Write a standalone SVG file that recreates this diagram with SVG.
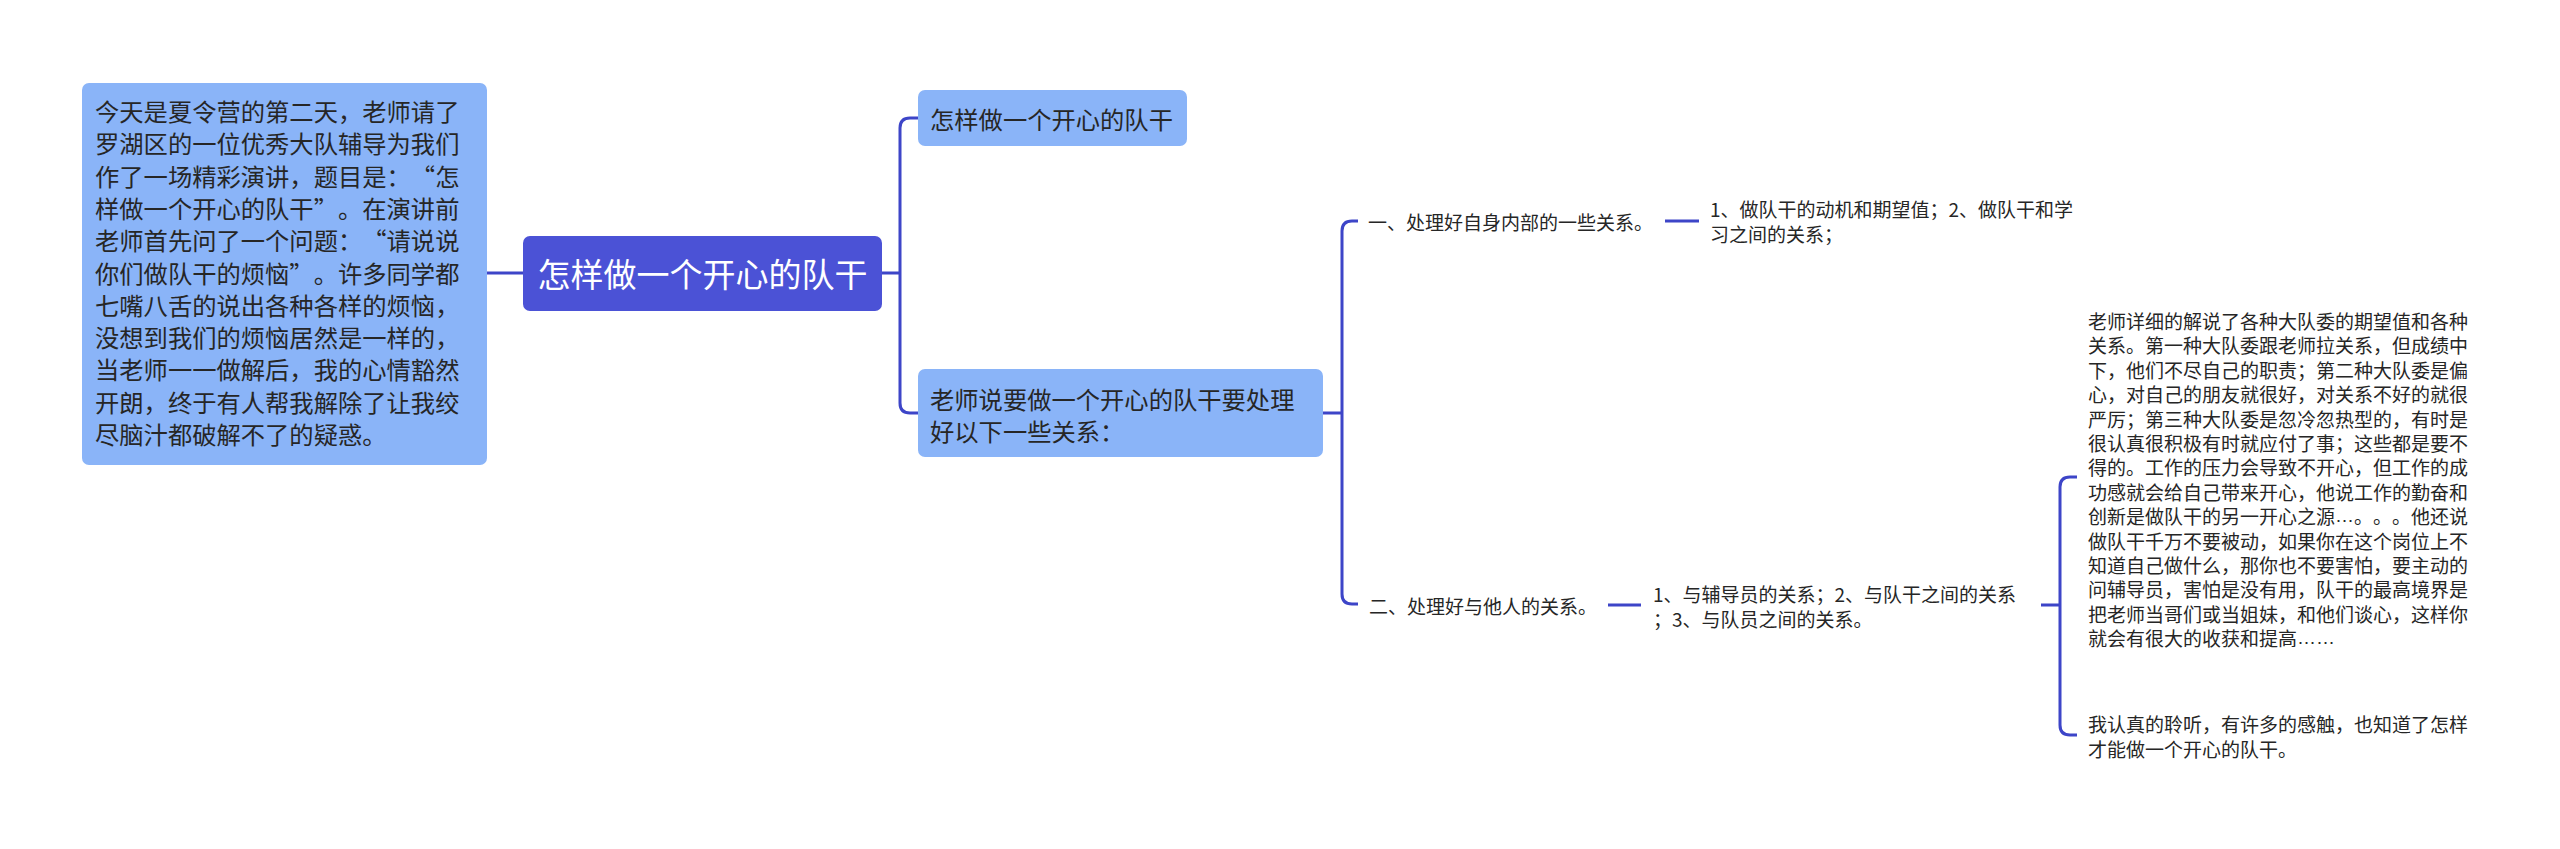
<svg xmlns="http://www.w3.org/2000/svg" width="2560" height="849" viewBox="0 0 2560 849">
<style>
text{font-family:"Noto Sans CJK SC","Liberation Sans",sans-serif;fill:#262626;dominant-baseline:central;text-spacing-trim:space-all}
.fw{font-feature-settings:"fwid"}
.lat{font-family:"Liberation Sans",sans-serif}
.box{fill:#8ab4f8}
.root{fill:#4b52d6}
.t24{font-size:24.3px}
.t19{font-size:19px}
.t33{font-size:33px;fill:#ffffff}
.c{fill:none;stroke:#3d45c8;stroke-width:3}
</style>
<rect width="2560" height="849" fill="#ffffff"/>
<g id="connectors">
<path class="c" d="M487 273H523"/>
<path class="c" d="M882 273H900M918 118H910Q900 118 900 128V403Q900 413 910 413H918"/>
<path class="c" d="M1323 413H1342M1358 221H1352Q1342 221 1342 231V594Q1342 604 1352 604H1358"/>
<path class="c" d="M1665 221H1699"/>
<path class="c" d="M1608 605H1641"/>
<path class="c" d="M2041 605H2060M2077 477H2070Q2060 477 2060 487V725Q2060 735 2070 735H2077"/>
</g>
<g id="intro">
<rect class="box" x="82" y="83" width="405" height="382" rx="7"/>
<text class="t24 fw" x="95"><tspan x="95" y="110">今天是夏令营的第二天，老师请了</tspan><tspan x="95" y="142.3">罗湖区的一位优秀大队辅导为我们</tspan><tspan x="95" y="174.6">作了一场精彩演讲，题目是：“怎</tspan><tspan x="95" y="206.9">样做一个开心的队干”。在演讲前</tspan><tspan x="95" y="239.2">老师首先问了一个问题：“请说说</tspan><tspan x="95" y="271.5">你们做队干的烦恼”。许多同学都</tspan><tspan x="95" y="303.8">七嘴八舌的说出各种各样的烦恼，</tspan><tspan x="95" y="336.1">没想到我们的烦恼居然是一样的，</tspan><tspan x="95" y="368.4">当老师一一做解后，我的心情豁然</tspan><tspan x="95" y="400.7">开朗，终于有人帮我解除了让我绞</tspan><tspan x="95" y="433">尽脑汁都破解不了的疑惑。</tspan></text>
</g>
<g id="root">
<rect class="root" x="523" y="236" width="359" height="75" rx="7"/>
<text class="t33" x="702.5" y="273" text-anchor="middle">怎样做一个开心的队干</text>
</g>
<g id="n1">
<rect class="box" x="918" y="90" width="269" height="56" rx="7"/>
<text class="t24" x="930" y="118">怎样做一个开心的队干</text>
</g>
<g id="n2">
<rect class="box" x="918" y="369" width="405" height="88" rx="7"/>
<text class="t24"><tspan x="930" y="398">老师说要做一个开心的队干要处理</tspan><tspan x="930" y="430">好以下一些关系：</tspan></text>
</g>
<g id="n3">
<text class="t19" x="1368" y="221">一、处理好自身内部的一些关系。</text>
</g>
<g id="n4">
<text class="t19"><tspan x="1710" y="208">1、做队干的动机和期望值；2、做队干和学</tspan><tspan x="1710" y="233">习之间的关系；</tspan></text>
</g>
<g id="n5">
<text class="t19" x="1369" y="605">二、处理好与他人的关系。</text>
</g>
<g id="n6">
<text class="t19"><tspan x="1653" y="593">1、与辅导员的关系；2、与队干之间的关系</tspan><tspan x="1653" y="618">；3、与队员之间的关系。</tspan></text>
</g>
<g id="n7">
<text class="t19"><tspan x="2088" y="320">老师详细的解说了各种大队委的期望值和各种</tspan><tspan x="2088" y="344.4">关系。第一种大队委跟老师拉关系，但成绩中</tspan><tspan x="2088" y="368.8">下，他们不尽自己的职责；第二种大队委是偏</tspan><tspan x="2088" y="393.2">心，对自己的朋友就很好，对关系不好的就很</tspan><tspan x="2088" y="417.6">严厉；第三种大队委是忽冷忽热型的，有时是</tspan><tspan x="2088" y="442">很认真很积极有时就应付了事；这些都是要不</tspan><tspan x="2088" y="466.4">得的。工作的压力会导致不开心，但工作的成</tspan><tspan x="2088" y="490.8">功感就会给自己带来开心，他说工作的勤奋和</tspan><tspan x="2088" y="515.2">创新是做队干的另一开心之源<tspan class="lat">…</tspan>。。。他还说</tspan><tspan x="2088" y="539.6">做队干千万不要被动，如果你在这个岗位上不</tspan><tspan x="2088" y="564">知道自己做什么，那你也不要害怕，要主动的</tspan><tspan x="2088" y="588.4">问辅导员，害怕是没有用，队干的最高境界是</tspan><tspan x="2088" y="612.8">把老师当哥们或当姐妹，和他们谈心，这样你</tspan><tspan x="2088" y="637.2">就会有很大的收获和提高<tspan class="lat">……</tspan></tspan></text>
</g>
<g id="n8">
<text class="t19"><tspan x="2088" y="723">我认真的聆听，有许多的感触，也知道了怎样</tspan><tspan x="2088" y="748">才能做一个开心的队干。</tspan></text>
</g>
</svg>
